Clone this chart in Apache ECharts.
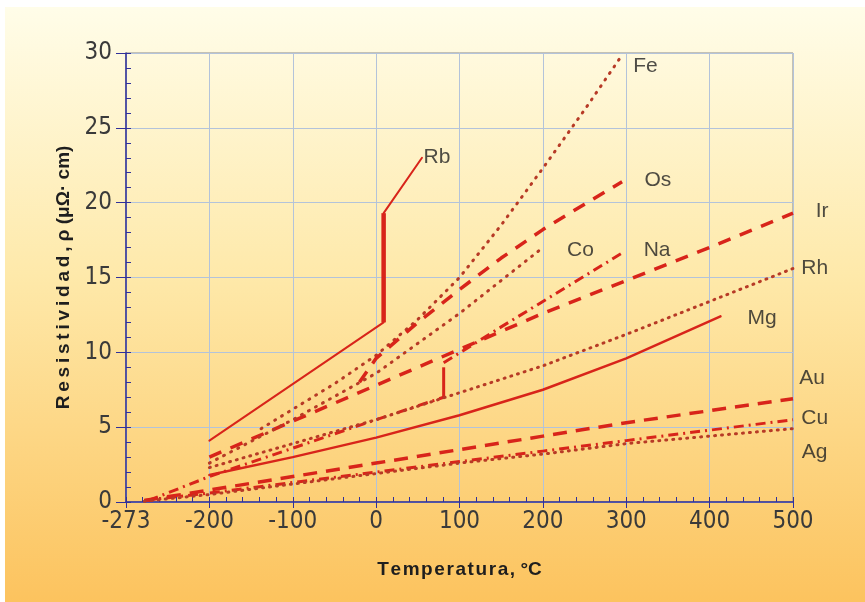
<!DOCTYPE html>
<html>
<head>
<meta charset="utf-8">
<script src="https://cdn.jsdelivr.net/npm/echarts@6/dist/echarts.min.js"></script>
<style>
  html, body { margin: 0; padding: 0; background: #ffffff; }
  #chart { position: absolute; left: 5px; top: 7px; width: 860px; height: 595px; }
</style>
</head>
<body>
<div id="chart"></div>
<script>
// Resistivity of metals vs temperature: each metal is a list of [T (°C), rho (µΩ·cm)]
const rbSolid = [[-200, 4.1], [9, 12.0]];
const rbMelt = [[9, 12.0], [9, 19.3]];
const rbLiquid = [[9, 19.3], [55, 23.0]];
const fe = [[-138, 4.9], [-50, 7.9], [0, 9.8], [50, 12.2], [100, 15.0], [150, 18.5], [200, 22.3], [250, 26.2], [293, 29.7]];
const os = [[-20, 8.0], [0, 9.6], [50, 12.0], [100, 14.2], [150, 16.3], [200, 18.2], [250, 19.9], [295, 21.4]];
const ir = [[-200, 3.0], [-100, 5.4], [0, 7.8], [100, 10.2], [200, 12.6], [300, 14.8], [400, 17.0], [500, 19.3]];
const co = [[-200, 2.6], [-100, 5.5], [0, 8.6], [100, 12.6], [200, 17.0]];
const naSolid = [[-273, 0.1], [-200, 1.7], [-100, 3.6], [0, 5.5], [81, 7.0]];
const naMelt = [[81, 7.0], [81, 9.0]];
const naLiquid = [[81, 9.3], [150, 11.7], [200, 13.4], [250, 15.1], [297, 16.7]];
const rh = [[-200, 2.3], [-100, 3.9], [0, 5.5], [100, 7.3], [200, 9.1], [300, 11.2], [400, 13.4], [500, 15.6]];
const mg = [[-200, 1.8], [-100, 3.0], [0, 4.3], [100, 5.8], [200, 7.5], [300, 9.6], [413, 12.4]];
const au = [[-278, 0.1], [-200, 0.8], [-100, 1.7], [0, 2.6], [100, 3.5], [200, 4.4], [300, 5.3], [400, 6.1], [500, 6.9]];
const cu = [[-278, 0.1], [-200, 0.6], [-100, 1.3], [0, 2.0], [100, 2.7], [200, 3.4], [300, 4.1], [400, 4.8], [500, 5.5]];
const ag = [[-278, 0.05], [-200, 0.5], [-100, 1.2], [0, 1.9], [100, 2.6], [200, 3.2], [300, 3.9], [400, 4.4], [500, 4.9]];

// Axis ticks; the leftmost tick stands for absolute zero
const xTicks = [-300, -200, -100, 0, 100, 200, 300, 400, 500];
const xTickText = ['-273', '-200', '-100', '0', '100', '200', '300', '400', '500'];
const yTicks = [0, 5, 10, 15, 20, 25, 30];

// Where each metal's name sits, in data units
const metalNames = ['Fe', 'Rb', 'Os', 'Ir', 'Co', 'Na', 'Rh', 'Mg', 'Au', 'Cu', 'Ag'];
const nameAnchors = [[323, 29.1], [73, 23.05], [338, 21.5], [535, 19.4], [245, 16.8], [337, 16.8],
                     [526, 15.6], [463, 12.3], [523, 8.3], [526, 5.6], [526, 3.3]];

const RED = '#d8241a';
const DOT = '#b73a26';
const AXIS = '#30309a';
const GRIDLINE = '#b3c3da';
const NARROW = "'Liberation Sans Narrow', 'DejaVu Sans Condensed', sans-serif";
const HS = '\u200a', TS = '\u2009';

function line(data, color, width, type, cap) {
  return {
    type: 'line', data: data, xAxisIndex: 0, yAxisIndex: 0,
    symbol: 'none', smooth: false, silent: true, clip: false,
    lineStyle: { color: color, width: width, type: type, cap: cap || 'butt' }
  };
}

const gridBox = { left: 121, right: 72, top: 46, bottom: 100 };

const chart = echarts.init(document.getElementById('chart'), null, { renderer: 'canvas' });
chart.setOption({
  animation: false,
  backgroundColor: {
    type: 'linear', x: 0, y: 0, x2: 0, y2: 1,
    colorStops: [
      { offset: 0, color: '#fffde9' },
      { offset: 0.45, color: '#fee9aa' },
      { offset: 1, color: '#fcc35e' }
    ]
  },
  grid: [
    Object.assign({ show: true, borderColor: '#8a8a8a', borderWidth: 1, backgroundColor: 'transparent' }, gridBox),
    Object.assign({ show: false }, gridBox)
  ],
  xAxis: [
    {
      type: 'value', gridIndex: 0, min: -300, max: 500, interval: 100,
      axisLine: { show: true, onZero: false, lineStyle: { color: AXIS, width: 1.5 } },
      axisTick: { show: true, inside: true, length: 5, lineStyle: { color: AXIS } },
      minorTick: { show: true, splitNumber: 5, length: 5, lineStyle: { color: AXIS } },
      splitLine: { show: true, lineStyle: { color: GRIDLINE, width: 1 } },
      axisLabel: { show: false }
    },
    {
      type: 'value', gridIndex: 1, min: -300, max: 500,
      axisLine: { show: false, onZero: false },
      axisTick: { show: true, inside: false, length: 6, customValues: xTicks, lineStyle: { color: AXIS } },
      splitLine: { show: false },
      axisLabel: {
        show: true, customValues: xTicks, margin: 8,
        color: '#3a3a3a', fontFamily: NARROW, fontSize: 24,
        formatter: function (v) { return xTickText[xTicks.indexOf(v)]; }
      },
      name: 'Temperatura,'.split('').join(HS) + ' \u00b0C',
      nameLocation: 'middle', nameGap: 58,
      nameTextStyle: { color: '#1e1e1e', fontFamily: 'Liberation Sans', fontWeight: 'bold', fontSize: 19 }
    }
  ],
  yAxis: [
    {
      type: 'value', gridIndex: 0, min: 0, max: 30, interval: 5,
      axisLine: { show: true, onZero: false, lineStyle: { color: AXIS, width: 1.5 } },
      axisTick: { show: true, inside: true, length: 5, lineStyle: { color: AXIS } },
      minorTick: { show: true, splitNumber: 5, length: 5, lineStyle: { color: AXIS } },
      splitLine: { show: true, lineStyle: { color: GRIDLINE, width: 1 } },
      axisLabel: { show: false }
    },
    {
      type: 'value', gridIndex: 1, min: 0, max: 30,
      axisLine: { show: false, onZero: false },
      axisTick: { show: true, inside: false, length: 10, customValues: yTicks, lineStyle: { color: AXIS } },
      splitLine: { show: false },
      axisLabel: {
        show: true, customValues: yTicks, margin: 14,
        color: '#3a3a3a', fontFamily: NARROW, fontSize: 24
      },
      name: 'Resistividad,'.split('').join(TS) + ' \u03c1 (\u03bc\u03a9\u00b7 cm)',
      nameLocation: 'middle', nameGap: 48, nameRotate: 90,
      nameTextStyle: { color: '#1e1e1e', fontFamily: 'Liberation Sans', fontWeight: 'bold', fontSize: 19 }
    }
  ],
  series: [
    line(rbSolid, RED, 2, 'solid', 'round'),
    line(rbMelt, RED, 4.5, 'solid'),
    line(rbLiquid, RED, 2, 'solid', 'round'),
    line(fe, DOT, 3, [1, 7], 'round'),
    line(os, RED, 3.5, [13, 10]),
    line(ir, RED, 3.5, [13, 10]),
    line(co, DOT, 3, [1, 7], 'round'),
    line(naSolid, RED, 3, [10, 5, 2, 5]),
    line(naMelt, RED, 3, 'solid'),
    line(naLiquid, RED, 3, [10, 5, 2, 5]),
    line(rh, DOT, 3, [1, 6], 'round'),
    line(mg, RED, 2.5, 'solid', 'round'),
    line(au, RED, 3.5, [14, 9]),
    line(cu, RED, 3, [10, 5, 2, 5]),
    line(ag, DOT, 3, [1, 6], 'round'),
    {
      type: 'scatter', xAxisIndex: 0, yAxisIndex: 0, clip: false, silent: true,
      symbolSize: 1, itemStyle: { color: 'rgba(0,0,0,0)' },
      data: metalNames.map(function (n, i) { return { name: n, value: nameAnchors[i] }; }),
      label: {
        show: true, position: 'inside', formatter: '{b}',
        color: '#222', fontFamily: "'Liberation Sans', Arial, sans-serif", fontSize: 21
      }
    }
  ]
});
</script>
</body>
</html>
